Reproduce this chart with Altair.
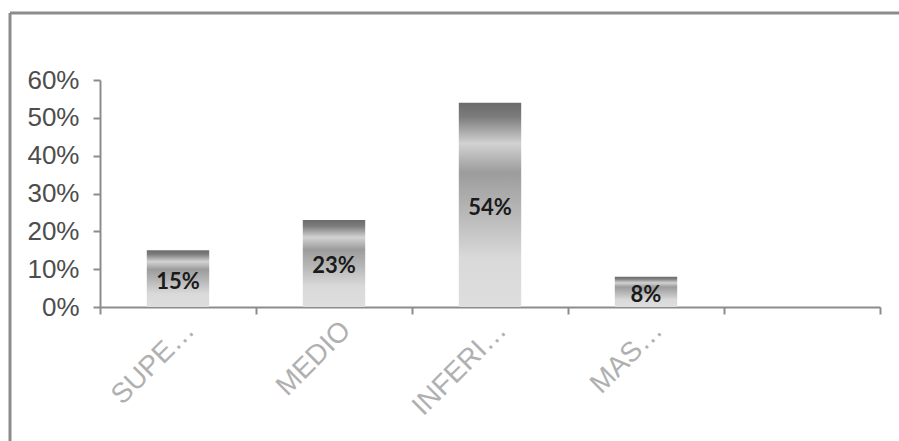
import altair as alt
import pandas as pd

# Share of respondents per level
categories = ["SUPE…", "MEDIO", "INFERI…", "MAS…"]
shares = [0.15, 0.23, 0.54, 0.08]
# the axis keeps one extra, empty slot on the right
axis_domain = categories + [" "]
y_ticks = [0, 0.1, 0.2, 0.3, 0.4, 0.5, 0.6]

df = pd.DataFrame({"nivel": categories, "pct": shares})

AXIS_GRAY = "#8c8c8c"

metal = alt.LinearGradient(
    gradient="linear",
    x1=0, x2=0, y1=0, y2=1,
    stops=[
        alt.GradientStop(offset=0.0, color="#6b6b6b"),
        alt.GradientStop(offset=0.07, color="#7c7c7c"),
        alt.GradientStop(offset=0.20, color="#d2d2d2"),
        alt.GradientStop(offset=0.34, color="#9c9c9c"),
        alt.GradientStop(offset=0.55, color="#b9b9b9"),
        alt.GradientStop(offset=0.76, color="#d9d9d9"),
        alt.GradientStop(offset=1.0, color="#dedede"),
    ],
)

# bands touch each other so that ticks fall on slot boundaries;
# the bars themselves only fill 40% of each slot
x_scale = alt.Scale(domain=axis_domain, paddingInner=0, paddingOuter=0)
y_scale = alt.Scale(domain=[0, 0.6], nice=False)

x_axis = alt.Axis(
    title=None,
    tickBand="extent",
    labelAngle=-45,
    labelFont="Liberation Sans",
    labelFontSize=28,
    labelColor="#b0b0b0",
    labelPadding=2,
    labelOffset=2,
    domainColor=AXIS_GRAY,
    domainWidth=2,
    tickColor=AXIS_GRAY,
    tickWidth=2,
    tickSize=7,
)

y_axis = alt.Axis(
    title=None,
    values=y_ticks,
    format=".0%",
    grid=False,
    labelOverlap=False,
    labelFont="Liberation Sans",
    labelFontSize=26,
    labelColor="#4d4d4d",
    labelPadding=14,
    domainColor=AXIS_GRAY,
    domainWidth=2,
    tickColor=AXIS_GRAY,
    tickWidth=2,
    tickSize=7,
)

bars = alt.Chart(df).mark_bar(
    color=metal, width=alt.RelativeBandSize(0.4)
).encode(
    x=alt.X("nivel:N", scale=x_scale, axis=x_axis),
    y=alt.Y("pct:Q", scale=y_scale, axis=y_axis),
)

labels = alt.Chart(df).transform_calculate(
    mid="datum.pct / 2"
).mark_text(
    font="Lato", fontWeight="bold", fontSize=22, color="#1a1a1a", dy=3
).encode(
    x=alt.X("nivel:N", scale=x_scale, axis=x_axis),
    y=alt.Y("mid:Q", scale=y_scale, axis=y_axis),
    text=alt.Text("pct:Q", format=".0%"),
)

# outer frame: top and left edges of the chart box
frame_df = pd.DataFrame({"k": [0]})
frame_top = alt.Chart(frame_df).mark_rule(color=AXIS_GRAY, strokeWidth=3).encode(
    x=alt.value(-90), x2=alt.value(799), y=alt.value(-67)
)
frame_left = alt.Chart(frame_df).mark_rule(color=AXIS_GRAY, strokeWidth=3).encode(
    x=alt.value(-90), y=alt.value(-67), y2=alt.value(361)
)

chart = (
    alt.layer(frame_top, frame_left, bars, labels)
    .properties(
        width=780,
        height=227,
        autosize=alt.AutoSizeParams(type="none"),
        padding={"left": 100, "top": 80, "right": 19, "bottom": 134},
        background="white",
    )
    .configure_view(stroke=None)
    .configure_axis(labelOverlap=False)
)

chart.save("out.html", embed_options={"renderer": "svg", "actions": False})
